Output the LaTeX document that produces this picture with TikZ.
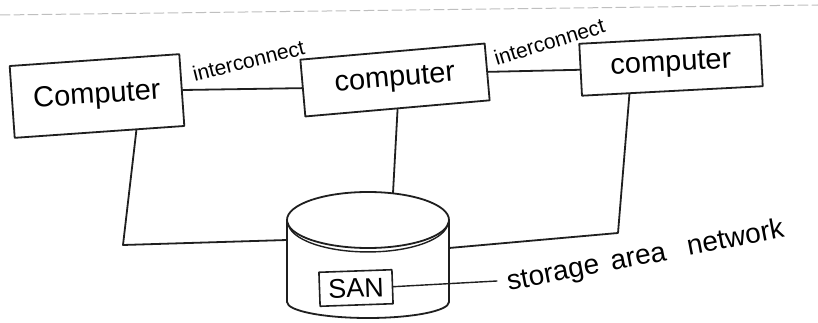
\documentclass[tikz,border=0pt]{standalone}
\usepackage{fontspec}
\setmainfont{Liberation Sans}
\usetikzlibrary{calc}
\begin{document}
\begin{tikzpicture}[x=1pt,y=-1pt,line width=1.8pt,line join=round,line cap=round,
  ink/.style={draw=black!88},
  compbox/.style={ink,inner sep=0pt,font=\fontsize{29}{32}\selectfont},
  linklabel/.style={inner sep=0pt,font=\fontsize{21}{23}\selectfont},
  sanbox/.style={ink,inner sep=0pt,line width=1.6pt,font=\fontsize{27}{30}\selectfont}]
\useasboundingbox[fill=white] (0,0) rectangle (818,323);

% faint fold line along the top of the sheet
\draw[black!25,line width=1pt,dash pattern=on 10pt off 4pt] (0,15) -- (818,5);

% the three computers
\node[compbox,minimum width=170pt,minimum height=72pt,rotate=4] (c1) at (97,96) {Computer};
\node[compbox,minimum width=185pt,minimum height=57pt,rotate=5] (c2) at (395,80) {computer};
\node[compbox,minimum width=181pt,minimum height=52pt,rotate=3] (c3) at (671,65) {computer};

% interconnects between the computers
\draw[ink] (c1.east) -- (c2.west);
\draw[ink] (c2.east) -- (c3.west);
\node[linklabel,anchor=base west,rotate=14] (l1) at (194,82) {interconnect};
\node[linklabel,anchor=base west,rotate=17] (l2) at (496,66) {interconnect};

% storage cylinder
\coordinate (disk) at (368,220);
\coordinate (diskTop) at (393,193);
\coordinate (diskW) at (287,240);
\coordinate (diskE) at (449,248);
\draw[ink] (disk) ellipse [x radius=81pt,y radius=28pt];
\draw[ink,line width=1.4pt] ($(disk)+(-80,3)$) arc[start angle=182,end angle=358,x radius=80pt,y radius=30pt];
\draw[ink] ($(disk)+(-81,0)$) -- ++(0,82)
  arc[start angle=180,end angle=360,x radius=81pt,y radius=16pt] -- ++(0,-82);

% SAN label inside the cylinder
\node[sanbox,minimum width=73pt,minimum height=34pt,rotate=2] (san) at (356,288) {SAN};

% links from each computer down to the storage
\coordinate (bend1) at (123,245);
\coordinate (bend3) at (618,233);
\draw[ink] (c1.-45) -- (bend1) -- (diskW);
\draw[ink] (c2.south) -- (diskTop);
\draw[ink] (c3.-148) -- (bend3) -- (diskE);

% caption for the SAN
\coordinate (tail) at (497,281);
\draw[ink,line width=1.4pt] (san.east) -- (tail);
\node[inner sep=0pt,anchor=base west,rotate=11,font=\fontsize{28}{30}\selectfont] (cap) at (508,291)
  {storage\hspace{12pt}area\hspace{22pt}network};
\end{tikzpicture}
\end{document}
